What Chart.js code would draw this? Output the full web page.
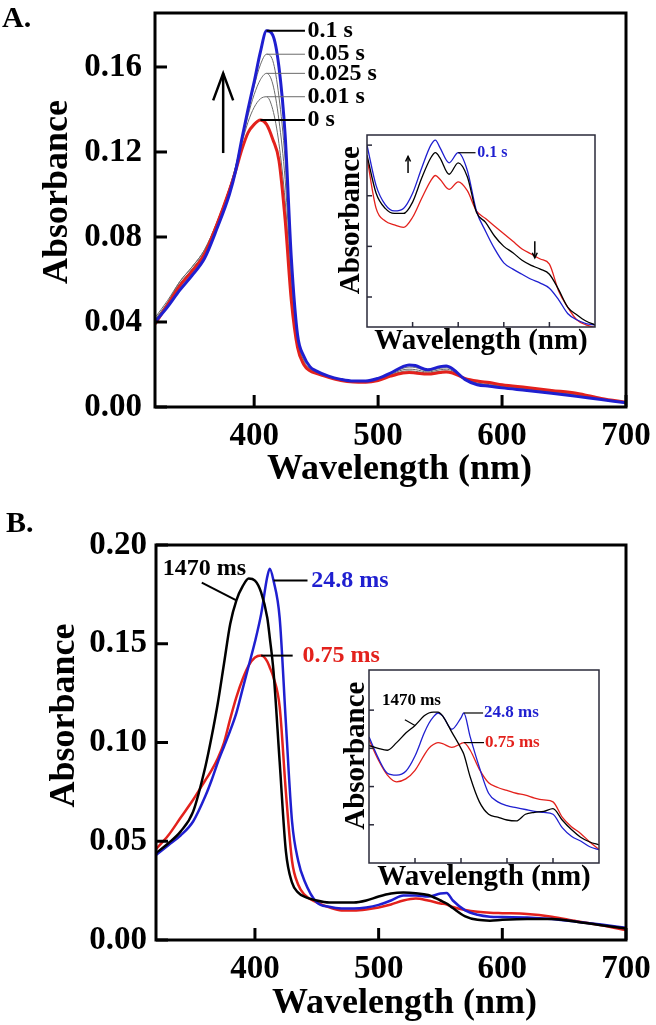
<!DOCTYPE html>
<html>
<head>
<meta charset="utf-8">
<script src="https://cdn.jsdelivr.net/npm/chart.js@4.4.1/dist/chart.umd.min.js"></script>
<style>
  html, body { margin: 0; padding: 0; background: #fff; }
  #fig { position: relative; width: 656px; height: 1025px; }
  #fig canvas { position: absolute; }
</style>
</head>
<body>
<div id="fig">
  <canvas id="mainA" width="656" height="490" style="left:0;top:0"></canvas>
  <canvas id="insetA" width="265" height="230" style="left:335px;top:130px"></canvas>
  <canvas id="mainB" width="656" height="535" style="left:0;top:490px"></canvas>
  <canvas id="insetB" width="269" height="235" style="left:335px;top:665px"></canvas>
</div>
<script>
const SERIF = "'Liberation Serif', 'Times New Roman', serif";
const BLUE = '#1f1fd0';
const RED = '#e3211c';
const GRAY = '#6b6b6b';

// ---- panel A, main spectra (wavelength nm -> absorbance)
const wlA = [320,330,340,350,360,370,380,385,390,395,400,405,410,415,420,425,430,435,440,445,
             450,460,470,480,490,500,510,520,525,530,540,550,555,560,570,580,590,600,620,640,660,680,700];
const absA_100ms = [0.040,0.047,0.055,0.062,0.070,0.084,0.100,0.111,0.126,0.140,0.153,0.167,0.177,0.175,0.160,0.128,0.070,0.034,0.024,0.019,
                    0.017,0.0145,0.013,0.0122,0.0122,0.0135,0.016,0.019,0.0198,0.0195,0.0175,0.019,0.0193,0.018,0.013,0.0105,0.0098,0.009,0.0078,0.0065,0.005,0.0035,0.002];
const absA_50ms = [0.041,0.049,0.058,0.065,0.073,0.086,0.102,0.113,0.126,0.139,0.151,0.161,0.166,0.163,0.146,0.116,0.064,0.033,0.023,0.019,
                   0.0165,0.0144,0.0129,0.0121,0.0121,0.0132,0.0156,0.0182,0.0188,0.0186,0.017,0.0182,0.0185,0.0175,0.0132,0.011,0.0102,0.0094,0.0082,0.0068,0.0054,0.0036,0.002];
const absA_25ms = [0.042,0.050,0.059,0.066,0.074,0.087,0.103,0.113,0.125,0.137,0.147,0.154,0.157,0.152,0.135,0.107,0.061,0.032,0.022,0.018,
                   0.0162,0.0143,0.0128,0.012,0.012,0.013,0.0153,0.0175,0.0178,0.0176,0.0165,0.0175,0.0178,0.017,0.0133,0.0113,0.0105,0.0097,0.0085,0.0071,0.0057,0.0037,0.0021];
const absA_10ms = [0.041,0.049,0.059,0.066,0.074,0.087,0.103,0.113,0.124,0.134,0.141,0.145,0.146,0.140,0.124,0.097,0.057,0.031,0.021,0.018,
                   0.016,0.0142,0.0127,0.012,0.0119,0.0128,0.015,0.0168,0.017,0.0168,0.016,0.0168,0.017,0.0165,0.0134,0.0118,0.011,0.010,0.0088,0.0074,0.006,0.0038,0.0021];
const absA_0ms = [0.039,0.048,0.057,0.064,0.072,0.086,0.102,0.111,0.121,0.129,0.133,0.135,0.133,0.126,0.116,0.088,0.050,0.028,0.020,0.017,
                  0.0158,0.014,0.0125,0.0118,0.0117,0.0125,0.0145,0.016,0.0162,0.016,0.0155,0.0162,0.0165,0.016,0.0135,0.0122,0.0115,0.0105,0.0092,0.0078,0.0065,0.004,0.0022];

// ---- panel A, inset (visible region)
const wlIA = [450,460,470,480,490,500,510,520,525,530,540,550,560,570,580,590,600,610,620,630,640,650,660,670,680,690,700];
const insA_100ms = [0.0200,0.0168,0.0153,0.0148,0.0150,0.0162,0.0182,0.0200,0.0204,0.0198,0.0186,0.0194,0.0180,0.0148,0.0132,0.0118,0.0107,0.0102,0.0098,0.0094,0.0091,0.0087,0.0078,0.0067,0.0062,0.0059,0.0058];
const insA_mid = [0.0192,0.0162,0.0150,0.0146,0.0146,0.0155,0.0174,0.0190,0.0194,0.0190,0.0177,0.0186,0.0175,0.0147,0.0139,0.0128,0.0120,0.0115,0.0109,0.0105,0.0102,0.0098,0.0086,0.0072,0.0066,0.0061,0.0058];
const insA_0ms = [0.0190,0.0150,0.0140,0.0137,0.0135,0.0143,0.0158,0.0172,0.0176,0.0173,0.0165,0.0171,0.0164,0.0148,0.0142,0.0136,0.0130,0.0124,0.0118,0.0114,0.0110,0.0106,0.0085,0.0072,0.0062,0.0058,0.0056];

// ---- panel B, main spectra
const wlB = [320,330,340,350,360,365,370,375,380,385,390,395,400,405,410,412,415,420,425,430,435,440,
             450,460,470,480,490,500,510,520,530,540,550,555,560,570,580,590,600,620,640,660,680,700];
const absB_1470 = [0.044,0.049,0.055,0.065,0.088,0.103,0.120,0.140,0.160,0.172,0.179,0.183,0.182,0.176,0.163,0.153,0.136,0.090,0.045,0.029,0.024,0.022,
                   0.020,0.019,0.019,0.019,0.020,0.022,0.0235,0.024,0.0237,0.0228,0.020,0.0185,0.0162,0.012,0.0102,0.0098,0.0102,0.0106,0.0106,0.0092,0.0075,0.0058];
const absB_24_8 = [0.043,0.048,0.053,0.060,0.073,0.081,0.090,0.098,0.106,0.115,0.127,0.139,0.151,0.165,0.184,0.188,0.182,0.163,0.110,0.060,0.040,0.030,
                   0.019,0.0168,0.016,0.016,0.0165,0.0178,0.020,0.0225,0.0225,0.022,0.0235,0.0238,0.020,0.015,0.0128,0.0118,0.0116,0.0114,0.0106,0.0092,0.0078,0.0062];
const absB_0_75 = [0.046,0.053,0.062,0.071,0.081,0.086,0.092,0.100,0.112,0.123,0.132,0.139,0.143,0.144,0.141,0.138,0.133,0.118,0.075,0.040,0.028,0.023,
                   0.019,0.0165,0.015,0.015,0.0155,0.0165,0.018,0.020,0.021,0.020,0.0185,0.018,0.0167,0.0152,0.0143,0.0138,0.0136,0.0132,0.0118,0.0095,0.0075,0.005];

// ---- panel B, inset
const wlIB = [450,460,470,480,490,500,510,515,520,525,530,540,550,553,560,570,580,590,600,610,620,630,640,650,660,670,680,690,700];
const insB_1470 = [0.0163,0.0160,0.0158,0.0166,0.0176,0.0184,0.0194,0.0197,0.0198,0.0198,0.0194,0.0177,0.0160,0.0154,0.0130,0.0104,0.0091,0.0088,0.0085,0.0084,0.0091,0.0093,0.0094,0.0097,0.0085,0.0075,0.0067,0.0062,0.0059];
const insB_24_8 = [0.0172,0.0150,0.0134,0.0132,0.0136,0.0152,0.0176,0.0186,0.0193,0.0197,0.0194,0.0180,0.0192,0.0197,0.0172,0.0140,0.0113,0.0104,0.0100,0.0098,0.0096,0.0094,0.0093,0.0091,0.0077,0.0068,0.0063,0.0057,0.0054];
const insB_0_75 = [0.0169,0.0148,0.0132,0.0125,0.0128,0.0137,0.0153,0.0160,0.0164,0.0166,0.0165,0.0161,0.0165,0.0166,0.0158,0.0138,0.0124,0.0119,0.0116,0.0113,0.0111,0.0108,0.0106,0.0104,0.0088,0.0078,0.0071,0.0062,0.0054];

// tick values
const xTicksMain = [400, 500, 600, 700];
const yTicksA = [0, 0.04, 0.08, 0.12, 0.16];
const yTicksB = [0, 0.05, 0.10, 0.15, 0.20];
const xTicksInset = [500, 550, 600, 650];
const yTicksInset = [0.008, 0.012, 0.016, 0.020];

const pts = (wl, ys) => wl.map((w, i) => ({ x: w, y: ys[i] }));
const peakOf = (wl, ys) => { let k = 0; ys.forEach((v, i) => { if (v > ys[k]) k = i; }); return [wl[k], ys[k]]; };
const at = (wl, ys, w) => [w, ys[wl.indexOf(w)]];
// leading spaces nudge a centred axis title off-centre, like the original figure
const nudge = (text, n) => ' '.repeat(n) + text;

// frame, inward ticks, leader labels, arrows, panel letter
const decor = {
  id: 'decor',
  afterDatasetsDraw(chart, args, o) {
    const { ctx, chartArea: a } = chart;
    const sx = chart.scales.x, sy = chart.scales.y;
    const px = v => sx.getPixelForValue(v), py = v => sy.getPixelForValue(v);
    const seg = (x1, y1, x2, y2) => { ctx.beginPath(); ctx.moveTo(x1, y1); ctx.lineTo(x2, y2); ctx.stroke(); };
    ctx.save();
    ctx.strokeStyle = o.frameColor;
    ctx.lineWidth = o.tickWidth;
    sx.ticks.forEach(t => seg(px(t.value), a.bottom, px(t.value), a.bottom - o.tickLen));
    sy.ticks.forEach(t => seg(a.left, py(t.value), a.left + o.tickLen, py(t.value)));
    ctx.lineWidth = o.frameWidth;
    ctx.strokeRect(a.left, a.top, a.width, a.height);

    ctx.textBaseline = 'middle';
    ctx.textAlign = 'left';
    (o.notes || []).forEach(n => {
      ctx.strokeStyle = n.lineColor;
      ctx.lineWidth = n.lineWidth;
      seg(px(n.from[0]), py(n.from[1]), px(n.to[0]), py(n.to[1]));
      ctx.fillStyle = n.color;
      ctx.font = n.font;
      ctx.fillText(n.text, px(n.at[0]), py(n.at[1]));
    });
    (o.arrows || []).forEach(r => {
      ctx.strokeStyle = '#000';
      ctx.lineWidth = r.lineWidth;
      const x = px(r.x), y0 = py(r.y0), y1 = py(r.y1);
      const dir = Math.sign(y0 - y1);
      seg(x, y0, x, y1);
      ctx.beginPath();
      ctx.moveTo(x - r.head[0], y1 + dir * r.head[1]);
      ctx.lineTo(x, y1);
      ctx.lineTo(x + r.head[0], y1 + dir * r.head[1]);
      ctx.stroke();
    });
    if (o.letter) {
      ctx.fillStyle = '#000';
      ctx.font = o.letter.font;
      ctx.textBaseline = 'alphabetic';
      ctx.fillText(o.letter.text, o.letter.x, o.letter.y);
    }
    ctx.restore();
  }
};

function line(data, color, width) {
  return { data, borderColor: color, borderWidth: width, pointRadius: 0, fill: false,
           cubicInterpolationMode: 'monotone' };
}

function axis(c) {
  return {
    type: 'linear', min: c.min, max: c.max,
    afterBuildTicks: s => { s.ticks = c.ticks.map(v => ({ value: v })); },
    afterFit: s => {
      if (c.width) s.width = c.width;
      if (c.height) s.height = c.height;
      // no extra room for the end labels, the layout padding already holds it
      s.paddingTop = s.paddingBottom = s.paddingLeft = s.paddingRight = 0;
    },
    grid: { display: false, drawTicks: false },
    border: { display: false },
    ticks: {
      display: c.labels !== false, autoSkip: false, maxRotation: 0, padding: c.pad || 0, color: '#000',
      font: { family: SERIF, size: 33, weight: 'bold' },
      callback: c.fmt || (v => v)
    },
    title: {
      display: true, text: c.title, color: '#000',
      font: { family: SERIF, size: c.titleSize, weight: 'bold', lineHeight: 1 },
      padding: c.titlePad
    }
  };
}

function makeChart(id, datasets, cfg) {
  return new Chart(document.getElementById(id), {
    type: 'line',
    data: { datasets },
    options: {
      responsive: false, animation: false, devicePixelRatio: 1,
      layout: { padding: cfg.padding },
      plugins: { legend: { display: false }, tooltip: { enabled: false }, decor: cfg.decor },
      scales: { x: cfg.x, y: cfg.y }
    },
    plugins: [decor]
  });
}

const labelFont = 'bold 24px ' + SERIF;
const insetFont = 'bold 17px ' + SERIF;

// ---------- panel A
const pkA100 = peakOf(wlA, absA_100ms), pkA50 = peakOf(wlA, absA_50ms), pkA25 = peakOf(wlA, absA_25ms),
      pkA10 = peakOf(wlA, absA_10ms), pkA0 = peakOf(wlA, absA_0ms);
const note = (text, pk, lc, lw, color, font, x1, x2) =>
  ({ text, from: pk, to: [x1, pk[1]], at: [x2, pk[1]], lineColor: lc, lineWidth: lw, color, font });

makeChart('mainA', [
  line(pts(wlA, absA_100ms), BLUE, 3),
  line(pts(wlA, absA_0ms), RED, 3),
  line(pts(wlA, absA_50ms), GRAY, 1),
  line(pts(wlA, absA_25ms), GRAY, 1),
  line(pts(wlA, absA_10ms), GRAY, 1)
], {
  padding: { top: 13, right: 30, left: 0, bottom: 0 },
  x: axis({ min: 320, max: 700, ticks: xTicksMain, height: 83, pad: 10, title: nudge('Wavelength (nm)', 2), titleSize: 36, titlePad: { top: 0, bottom: 2 } }),
  y: axis({ min: 0, max: 0.1854, ticks: yTicksA, width: 155, pad: 13, fmt: v => v.toFixed(2), title: nudge('Absorbance', 4), titleSize: 36, titlePad: { top: 40, bottom: 0 } }),
  decor: {
    frameColor: '#000', frameWidth: 3, tickWidth: 3, tickLen: 12,
    letter: { text: 'A.', x: 2, y: 27, font: 'bold 30px ' + SERIF },
    notes: [
      note('0.1 s', pkA100, '#000', 2, '#000', labelFont, 441, 443),
      note('0.05 s', pkA50, GRAY, 1, '#000', labelFont, 441, 443),
      note('0.025 s', pkA25, GRAY, 1, '#000', labelFont, 441, 443),
      note('0.01 s', pkA10, GRAY, 1, '#000', labelFont, 441, 443),
      note('0 s', pkA0, '#000', 2, '#000', labelFont, 441, 443)
    ],
    arrows: [{ x: 375, y0: 0.1195, y1: 0.157, lineWidth: 2.5, head: [10, 27] }]
  }
});

makeChart('insetA', [
  line(pts(wlIA, insA_mid), '#000', 1.3),
  line(pts(wlIA, insA_100ms), BLUE, 1.3),
  line(pts(wlIA, insA_0ms), RED, 1.3)
], {
  padding: { top: 5, right: 5, left: 0, bottom: 0 },
  x: axis({ min: 450, max: 700, ticks: xTicksInset, height: 33, labels: false, title: 'Wavelength (nm)', titleSize: 29, titlePad: { top: 0, bottom: 4 } }),
  y: axis({ min: 0.00563, max: 0.0208, ticks: yTicksInset, width: 32, labels: false, title: nudge('Absorbance', 3), titleSize: 29, titlePad: { top: 2.5, bottom: 0 } }),
  decor: {
    frameColor: '#2a2a3a', frameWidth: 1.5, tickWidth: 1.5, tickLen: 5,
    notes: [
      { text: '0.1 s', from: at(wlIA, insA_100ms, 550), to: [569, at(wlIA, insA_100ms, 550)[1]], at: [571, at(wlIA, insA_100ms, 550)[1]],
        lineColor: '#000', lineWidth: 1.2, color: BLUE, font: 'bold 16px ' + SERIF }
    ],
    arrows: [
      { x: 495, y0: 0.0178, y1: 0.0191, lineWidth: 1.5, head: [2.5, 5] },
      { x: 634, y0: 0.0124, y1: 0.0111, lineWidth: 1.5, head: [2.5, 5] }
    ]
  }
});

// ---------- panel B
makeChart('mainB', [
  line(pts(wlB, absB_1470), '#000', 2.5),
  line(pts(wlB, absB_24_8), BLUE, 2.5),
  line(pts(wlB, absB_0_75), RED, 2.5)
], {
  padding: { top: 55, right: 30, left: 0, bottom: 0 },
  x: axis({ min: 320, max: 700, ticks: xTicksMain, height: 85, pad: 10, title: nudge('Wavelength (nm)', 3), titleSize: 36, titlePad: { top: 0, bottom: 3 } }),
  y: axis({ min: 0, max: 0.20, ticks: yTicksB, width: 156, pad: 9, fmt: v => v.toFixed(2), title: nudge('Absorbance', 6), titleSize: 36, titlePad: { top: 47, bottom: 0 } }),
  decor: {
    frameColor: '#000', frameWidth: 3, tickWidth: 3, tickLen: 12,
    letter: { text: 'B.', x: 6, y: 42, font: 'bold 30px ' + SERIF },
    notes: [
      { text: '1470 ms', from: at(wlB, absB_1470, 385), to: [357, 0.181], at: [325.5, 0.188],
        lineColor: '#000', lineWidth: 2, color: '#000', font: labelFont },
      { text: '24.8 ms', from: at(wlB, absB_24_8, 415), to: [442.5, at(wlB, absB_24_8, 415)[1]], at: [445.5, at(wlB, absB_24_8, 415)[1]],
        lineColor: '#000', lineWidth: 2, color: BLUE, font: labelFont },
      { text: '0.75 ms', from: peakOf(wlB, absB_0_75), to: [430.5, peakOf(wlB, absB_0_75)[1]], at: [438.5, peakOf(wlB, absB_0_75)[1]],
        lineColor: '#000', lineWidth: 2, color: RED, font: labelFont }
    ]
  }
});

makeChart('insetB', [
  line(pts(wlIB, insB_1470), '#000', 1.3),
  line(pts(wlIB, insB_24_8), BLUE, 1.3),
  line(pts(wlIB, insB_0_75), RED, 1.3)
], {
  padding: { top: 5, right: 5, left: 0, bottom: 0 },
  x: axis({ min: 450, max: 700, ticks: xTicksInset, height: 37, labels: false, title: 'Wavelength (nm)', titleSize: 29, titlePad: { top: 0, bottom: 7.5 } }),
  y: axis({ min: 0.004, max: 0.0242, ticks: yTicksInset, width: 34, labels: false, title: nudge('Absorbance', 3), titleSize: 29, titlePad: { top: 7.5, bottom: 0 } }),
  decor: {
    frameColor: '#2a2a3a', frameWidth: 1.5, tickWidth: 1.5, tickLen: 5,
    notes: [
      { text: '1470 ms', from: at(wlIB, insB_1470, 500), to: [489, 0.0190], at: [464, 0.0210],
        lineColor: '#000', lineWidth: 1.2, color: '#000', font: insetFont },
      { text: '24.8 ms', from: at(wlIB, insB_24_8, 553), to: [574, at(wlIB, insB_24_8, 553)[1]], at: [575, at(wlIB, insB_24_8, 553)[1]],
        lineColor: '#000', lineWidth: 1.2, color: BLUE, font: insetFont },
      { text: '0.75 ms', from: at(wlIB, insB_0_75, 553), to: [575, at(wlIB, insB_0_75, 553)[1]], at: [576, at(wlIB, insB_0_75, 553)[1]],
        lineColor: '#000', lineWidth: 1.2, color: RED, font: insetFont }
    ]
  }
});
</script>
</body>
</html>
